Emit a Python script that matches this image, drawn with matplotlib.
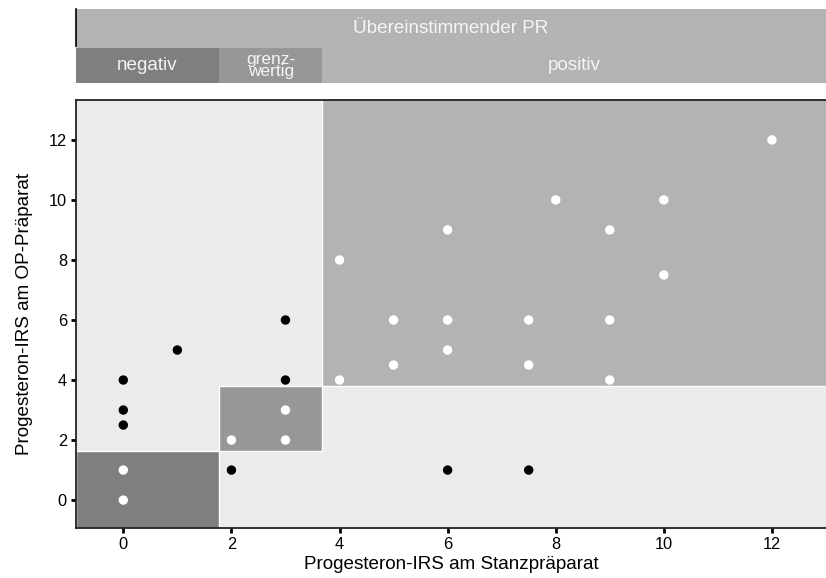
import matplotlib.pyplot as plt
from matplotlib.patches import Rectangle
from matplotlib.lines import Line2D

plt.rcParams['font.family'] = ['Liberation Sans', 'DejaVu Sans']

# agreeing cases (white) and disagreeing cases (black)
agree_x = [0, 0, 2, 3, 3, 4, 4, 5, 5, 6, 6, 6, 7.5, 7.5, 8, 9, 9, 9, 10, 10, 12]
agree_y = [1, 0, 2, 3, 2, 4, 8, 6, 4.5, 9, 6, 5, 6, 4.5, 10, 9, 6, 4, 10, 7.5, 12]
disagree_x = [0, 0, 0, 1, 3, 3, 2, 6, 7.5]
disagree_y = [4, 3, 2.5, 5, 6, 4, 1, 1, 1]

# category boundaries (stanz on x, OP on y)
x_cuts = [1.77, 3.68]
y_cuts = [1.65, 3.8]
cat_labels = ['negativ', 'grenz-\nwertig', 'positiv']
cat_colors = ['#7f7f7f', '#979797', '#b3b3b3']
ticks = [0, 2, 4, 6, 8, 10, 12]

xmin, xmax = -0.875, 13.0
ymin, ymax = -0.92, 13.33

W, H = 826, 578
fig = plt.figure(figsize=(W / 100, H / 100), dpi=100)

ax = fig.add_axes([76 / W, (H - 527.7) / H, (W - 76) / W, (527.7 - 100) / H])
ax.set_facecolor('#ebebeb')
ax.set_xlim(xmin, xmax)
ax.set_ylim(ymin, ymax)

# shaded agreement regions
ax.add_patch(Rectangle((xmin, ymin), x_cuts[0] - xmin, y_cuts[0] - ymin,
                       facecolor=cat_colors[0], edgecolor='white', lw=1, zorder=1))
ax.add_patch(Rectangle((x_cuts[0], y_cuts[0]), x_cuts[1] - x_cuts[0], y_cuts[1] - y_cuts[0],
                       facecolor=cat_colors[1], edgecolor='white', lw=1, zorder=1))
ax.add_patch(Rectangle((x_cuts[1], y_cuts[1]), xmax + 1 - x_cuts[1], ymax + 1 - y_cuts[1],
                       facecolor=cat_colors[2], edgecolor='white', lw=1, zorder=1))

ax.scatter(agree_x, agree_y, s=46, color='white', edgecolor='none', zorder=3)
ax.scatter(disagree_x, disagree_y, s=46, color='black', edgecolor='none', zorder=3)

ax.set_xticks(ticks)
ax.set_yticks(ticks)
ax.tick_params(length=3.5, width=2, labelsize=11.8, colors='black', pad=3)
for sp in ax.spines.values():
    sp.set_color('#222222')
    sp.set_linewidth(1.3)
ax.spines['right'].set_visible(False)
ax.set_xlabel('Progesteron-IRS am Stanzpräparat', fontsize=13.6, labelpad=3)
ax.set_ylabel('Progesteron-IRS am OP-Präparat', fontsize=13.6, labelpad=11)

# header strips
top = fig.add_axes([76 / W, (H - 48) / H, (W - 76) / W, 39 / H])
top.set_xlim(xmin, xmax)
top.set_ylim(0, 1)
top.set_facecolor('#b3b3b3')
top.set_xticks([])
top.set_yticks([])
for sp in top.spines.values():
    sp.set_visible(False)
top.text((xmin + xmax) / 2, 0.5, 'Übereinstimmender PR', ha='center', va='center',
         color='#f5f5f5', fontsize=13.6)

sub = fig.add_axes([76 / W, (H - 83) / H, (W - 76) / W, 35 / H])
sub.set_xlim(xmin, xmax)
sub.set_ylim(0, 1)
sub.set_xticks([])
sub.set_yticks([])
for sp in sub.spines.values():
    sp.set_visible(False)
edges = [xmin] + x_cuts + [xmax]
for i in range(3):
    sub.add_patch(Rectangle((edges[i], 0), edges[i + 1] - edges[i], 1,
                            facecolor=cat_colors[i], edgecolor='none'))
    sub.text((edges[i] + edges[i + 1]) / 2, 0.5, cat_labels[i], ha='center', va='center',
             color='#f5f5f5', fontsize=13.6 if i != 1 else 12.5, linespacing=0.8)

fig.add_artist(Line2D([76 / W, 76 / W], [(H - 9) / H, (H - 46) / H], color='black', lw=1.2))

fig.savefig('out.png', dpi=100)
